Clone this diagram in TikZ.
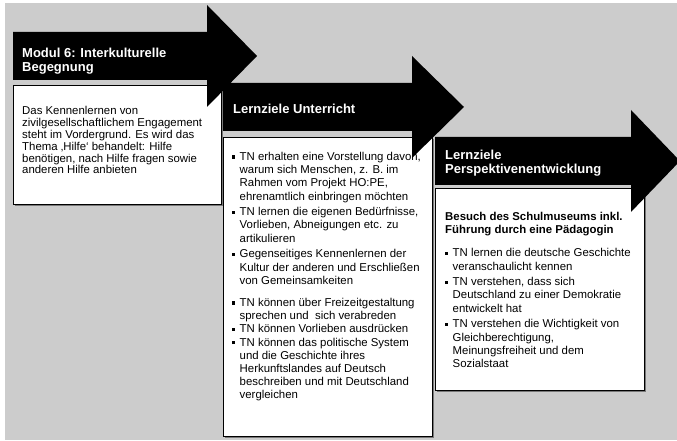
\documentclass[tikz,border=0pt]{standalone}
\usepackage{fontspec}
\setmainfont{Liberation Sans}

\begin{document}
\begin{tikzpicture}[x=1pt,y=1pt,line width=0.4pt]
\definecolor{bggrey}{RGB}{204,204,204}
\definecolor{shadegrey}{RGB}{120,120,120}
\providecommand{\fhead}{\fontsize{13}{14.5}\selectfont\bfseries}
\providecommand{\fbody}{\fontsize{11.4}{13.2}\selectfont}
\providecommand{\fbodyt}{\fontsize{11.4}{11.8}\selectfont}
\providecommand{\bul}{\makebox[7.5pt][l]{\rule[1.9pt]{3.2pt}{3.2pt}}}
\providecommand{\ind}{\hspace*{7.5pt}}
\useasboundingbox (0,0) rectangle (677,441);
\fill[bggrey] (5,1) rectangle (677,438);
% module box
\fill[shadegrey] (15,235) rectangle (223,354);
\draw[fill=white,line width=0.8pt] (13,237) rectangle (221,356);
\node[anchor=north west,inner sep=0pt,font=\fbodyt,align=left] (body1) at (22,334.5) {Das Kennenlernen von\\ zivilgesellschaftlichem Engagement\\ steht im Vordergrund. Es wird das\\ Thema ‚Hilfe‘ behandelt: Hilfe\\ benötigen, nach Hilfe fragen sowie\\ anderen Hilfe anbieten};
\fill[black] (13,361) -- (207,361) -- (207,334) -- (257,385) -- (207,436) -- (207,409) -- (13,409) -- cycle;
\node[anchor=west,inner sep=0pt,font=\fhead,text=white,align=left] (head1) at (22,380) {Modul 6: Interkulturelle\\ Begegnung};
% lessons box
\fill[shadegrey] (225,3) rectangle (434,302);
\draw[fill=white,line width=0.8pt] (223,5) rectangle (432,304);
\node[anchor=north west,inner sep=0pt,font=\fbody,align=left] (body2) at (232,289) {\bul TN erhalten eine Vorstellung davon,\\ \ind warum sich Menschen, z. B. im\\ \ind Rahmen vom Projekt HO:PE,\\ \ind ehrenamtlich einbringen möchten\\[2.5pt] \bul TN lernen die eigenen Bedürfnisse,\\ \ind Vorlieben, Abneigungen etc. zu\\ \ind artikulieren\\[2.5pt] \bul Gegenseitiges Kennenlernen der\\ \ind Kultur der anderen und Erschließen\\ \ind von Gemeinsamkeiten\\[9pt] \bul TN können über Freizeitgestaltung\\ \ind sprechen und\ \ sich verabreden\\ \bul TN können Vorlieben ausdrücken\\ \bul TN können das politische System\\ \ind und die Geschichte ihres\\ \ind Herkunftslandes auf Deutsch\\ \ind beschreiben und mit Deutschland\\ \ind vergleichen};
\fill[black] (223,310) -- (412,310) -- (412,283) -- (464,334) -- (412,385) -- (412,358) -- (223,358) -- cycle;
\node[anchor=west,inner sep=0pt,font=\fhead,text=white,align=left] (head2) at (233,332) {Lernziele Unterricht};
% perspective box
\fill[shadegrey] (437,49) rectangle (646,251);
\draw[fill=white,line width=0.8pt] (435,51) rectangle (644,253);
\node[anchor=north west,inner sep=0pt,font=\fbody,align=left] (body3) at (445,229) {\textbf{Besuch des Schulmuseums inkl.}\\ \textbf{Führung durch eine Pädagogin}\\[10pt] \bul TN lernen die deutsche Geschichte\\ \ind veranschaulicht kennen\\[2.5pt] \bul TN verstehen, dass sich\\ \ind Deutschland zu einer Demokratie\\ \ind entwickelt hat\\[2.5pt] \bul TN verstehen die Wichtigkeit von\\ \ind Gleichberechtigung,\\ \ind Meinungsfreiheit und dem\\ \ind Sozialstaat};
\fill[black] (435,256) -- (631,256) -- (631,229) -- (680,280) -- (631,331) -- (631,304) -- (435,304) -- cycle;
\node[anchor=west,inner sep=0pt,font=\fhead,text=white,align=left] (head3) at (445,278) {Lernziele\\ Perspektivenentwicklung};
\end{tikzpicture}
\end{document}
